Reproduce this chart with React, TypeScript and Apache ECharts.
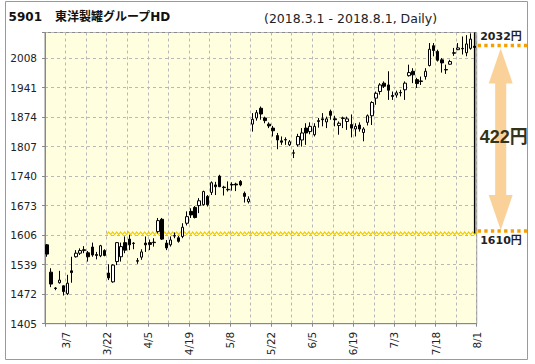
import React, { useEffect, useRef } from "react";
import * as echarts from "echarts";

const dates = [
  "3/1", "3/2", "3/5", "3/6", "3/7", "3/8", "3/9", "3/12", "3/13", "3/14", "3/15", "3/16", "3/19", "3/20", "3/22", "3/23", "3/26", "3/27", "3/28", "3/29", "3/30",
  "4/2", "4/3", "4/4", "4/5", "4/6", "4/9", "4/10", "4/11", "4/12", "4/13", "4/16", "4/17", "4/18", "4/19", "4/20", "4/23", "4/24", "4/25", "4/26", "4/27",
  "5/1", "5/2", "5/7", "5/8", "5/9", "5/10", "5/11", "5/14", "5/15", "5/16", "5/17", "5/18", "5/21", "5/22", "5/23", "5/24", "5/25", "5/28", "5/29", "5/30", "5/31",
  "6/1", "6/4", "6/5", "6/6", "6/7", "6/8", "6/11", "6/12", "6/13", "6/14", "6/15", "6/18", "6/19", "6/20", "6/21", "6/22", "6/25", "6/26", "6/27", "6/28", "6/29",
  "7/2", "7/3", "7/4", "7/5", "7/6", "7/9", "7/10", "7/11", "7/12", "7/13", "7/17", "7/18", "7/19", "7/20", "7/23", "7/24", "7/25", "7/26", "7/27", "7/30", "7/31",
  "8/1",
];

const opens = [
  1584, 1522, 1486, 1498, 1491, 1473, 1525, 1557, 1565, 1571, 1566, 1579, 1562, 1559, 1571, 1520, 1500, 1546, 1557, 1589, 1597,
  1587, 1548, 1556, 1588, 1589, 1589, 1614, 1642, 1588, 1584, 1604, 1600, 1603, 1633, 1660, 1669, 1673, 1675, 1694, 1703,
  1720, 1740, 1715, 1709, 1721, 1722, 1728, 1701, 1682, 1858, 1872, 1894, 1872, 1858, 1849, 1832, 1820, 1822, 1811, 1792, 1811,
  1822, 1849, 1841, 1834, 1864, 1870, 1863, 1887, 1870, 1855, 1872, 1864, 1857, 1847, 1856, 1839, 1862, 1877, 1917, 1932, 1951,
  1947, 1923, 1924, 1929, 1936, 1968, 1978, 1959, 1956, 1966, 1991, 2036, 2023, 2004, 1982, 1994, 2020, 2027, 2030, 2020, 2030,
  2035,
];
const closes = [
  1563, 1495, 1485, 1504, 1478, 1497, 1521, 1565, 1571, 1573, 1557, 1561, 1560, 1582, 1560, 1509, 1538, 1589, 1580, 1572, 1584,
  1588, 1547, 1568, 1584, 1585, 1590, 1639, 1597, 1577, 1595, 1605, 1592, 1624, 1648, 1652, 1646, 1684, 1705, 1675, 1725,
  1716, 1716, 1714, 1710, 1720, 1720, 1720, 1694, 1688, 1869, 1884, 1881, 1866, 1854, 1843, 1822, 1817, 1823, 1818, 1793, 1830,
  1838, 1838, 1853, 1853, 1866, 1868, 1870, 1878, 1868, 1860, 1871, 1870, 1849, 1853, 1847, 1847, 1877, 1907, 1928, 1947, 1944,
  1935, 1921, 1929, 1930, 1951, 1975, 1970, 1950, 1955, 1978, 2028, 2025, 2003, 1997, 1981, 2000, 2019, 2031, 2029, 2040, 2051,
  2032,
];
const lows = [
  1557, 1488, 1481, 1496, 1469, 1470, 1498, 1555, 1561, 1565, 1546, 1557, 1551, 1556, 1558, 1504, 1498, 1538, 1546, 1565, 1572,
  1574, 1541, 1550, 1568, 1572, 1580, 1610, 1595, 1572, 1580, 1599, 1589, 1599, 1628, 1645, 1644, 1656, 1673, 1671, 1697,
  1697, 1715, 1696, 1705, 1707, 1706, 1717, 1680, 1678, 1841, 1866, 1868, 1860, 1849, 1830, 1801, 1811, 1811, 1808, 1781, 1807,
  1807, 1811, 1835, 1830, 1850, 1853, 1849, 1868, 1853, 1834, 1849, 1845, 1828, 1830, 1841, 1819, 1855, 1856, 1902, 1925, 1940,
  1913, 1913, 1918, 1921, 1913, 1966, 1951, 1940, 1947, 1959, 1989, 2012, 2000, 1975, 1972, 1993, 2013, 2026, 2016, 2012, 2027,
  2026,
];
const highs = [
  1586, 1531, 1488, 1525, 1492, 1516, 1557, 1572, 1576, 1581, 1570, 1589, 1568, 1584, 1574, 1540, 1540, 1590, 1589, 1603, 1607,
  1590, 1554, 1574, 1603, 1596, 1599, 1645, 1645, 1595, 1603, 1612, 1604, 1633, 1660, 1667, 1672, 1690, 1707, 1697, 1728,
  1727, 1743, 1718, 1728, 1726, 1725, 1731, 1705, 1694, 1883, 1890, 1898, 1875, 1862, 1854, 1838, 1830, 1828, 1822, 1800, 1836,
  1849, 1860, 1862, 1860, 1872, 1883, 1875, 1891, 1877, 1864, 1875, 1875, 1880, 1860, 1862, 1851, 1880, 1910, 1932, 1951, 1955,
  1978, 1932, 1934, 1936, 1955, 1993, 1985, 1963, 1966, 1985, 2042, 2042, 2027, 2008, 1993, 2004, 2031, 2042, 2057, 2060, 2064,
  2040,
];

const yMin = 1405;
const yStep = 67;
const yMax = 2066;
const rangeHigh = 2032;
const rangeLow = 1610;
const rangeStartIndex = 14;
const titleCode = "5901";
const titleName = "東洋製罐グループHD";
const subtitle = "(2018.3.1 - 2018.8.1, Daily)";

export default function App() {
  const ref = useRef<HTMLDivElement>(null);

  useEffect(() => {
    const el = ref.current;
    if (!el) return;
    const chart = echarts.init(el, null, { renderer: "svg" });
    const font = "DejaVu Sans";
    const cjkFont = "'DejaVu Sans', 'Noto Sans CJK JP', sans-serif";
    const candles = dates.map((_, i) => [opens[i], closes[i], lows[i], highs[i]]);
    const n = dates.length;

    chart.setOption({
      animation: false,
      grid: {
        left: 45,
        top: 32.5,
        right: 58.3,
        bottom: 40.3,
        show: true,
        backgroundColor: "#FFFFE0",
        borderColor: "#8a8a8a",
        borderWidth: 1,
      },
      xAxis: [
        { type: "category", data: dates, boundaryGap: true, show: false },
        {
          type: "value",
          min: 0,
          max: n,
          interval: 5,
          position: "bottom",
          axisLine: { show: true, onZero: false, lineStyle: { color: "#888" } },
          axisTick: { show: true, length: 3, lineStyle: { color: "#888" } },
          splitLine: { show: true, lineStyle: { color: "#b8b8b8", type: [3, 3] } },
          axisLabel: {
            rotate: 90,
            fontSize: 10.5,
            fontFamily: font,
            color: "#222",
            margin: 8,
            formatter: (v: number) => (v % 10 === 5 ? dates[v - 1] : ""),
          },
        },
      ],
      yAxis: {
        type: "value",
        min: yMin,
        max: yMax,
        interval: yStep,
        axisLine: { show: true, lineStyle: { color: "#888" } },
        axisTick: { show: true, length: 3, lineStyle: { color: "#888" } },
        splitLine: { show: true, lineStyle: { color: "#b8b8b8", type: [3, 3] } },
        axisLabel: {
          fontSize: 10.5,
          fontFamily: font,
          color: "#222",
          margin: 8,
          formatter: (v: number) => ((v - yMin) % yStep === 0 ? String(v) : ""),
        },
      },
      series: [
        {
          type: "candlestick",
          xAxisIndex: 0,
          yAxisIndex: 0,
          data: candles,
          barWidth: 3,
          itemStyle: {
            color: "#ffffff",
            color0: "#000000",
            borderColor: "#000000",
            borderColor0: "#000000",
            borderWidth: 1,
          },
          z: 3,
        },
      ],
    });

    const px = (o: any, v: any) => chart.convertToPixel(o, v) as unknown as number;
    const yHi = px({ yAxisIndex: 0 }, rangeHigh);
    const yLo = px({ yAxisIndex: 0 }, rangeLow);
    const yTop = px({ yAxisIndex: 0 }, yMax);
    const xRight = px({ xAxisIndex: 1 }, n);
    const xStart = px({ xAxisIndex: 1 }, rangeStartIndex + 1);
    const xLast = px({ xAxisIndex: 0 }, n - 1);

    const zig: number[][] = [];
    let k = 0;
    for (let x = xStart; x <= xRight + 0.01; x += 2, k++) {
      zig.push([x, yLo + (k % 2 === 0 ? 1.2 : -1.4)]);
    }

    const orange = "#F5A000";
    const cx = xRight + 24;
    const tipT = yHi + 1;
    const tipB = yLo - 3.5;
    const headH = 35;
    const headW = 12;
    const shaftW = 5.5;
    const arrow = [
      [cx, tipT],
      [cx + headW, tipT + headH],
      [cx + shaftW, tipT + headH],
      [cx + shaftW, tipB - headH],
      [cx + headW, tipB - headH],
      [cx, tipB],
      [cx - headW, tipB - headH],
      [cx - shaftW, tipB - headH],
      [cx - shaftW, tipT + headH],
      [cx - headW, tipT + headH],
    ];

    const txt = (text: string, x: number, y: number, size: number, weight: string, fill: string, family: string, align = "left") => ({
      type: "text",
      z: 10,
      style: {
        text,
        x,
        y,
        fontSize: size,
        fontWeight: weight,
        fontFamily: family,
        fill,
        align,
        textAlign: align,
        verticalAlign: "middle",
        textVerticalAlign: "middle",
      },
    });

    chart.setOption({
      graphic: [
        {
          type: "rect",
          z: 0,
          shape: { x: 5.5, y: 1.5, width: 522, height: 358 },
          style: { fill: "none", stroke: "#9a9a9a", lineWidth: 1 },
          silent: true,
        },
        {
          type: "polyline",
          z: 1,
          shape: { points: zig },
          style: { stroke: "#F2CC00", lineWidth: 1.2, fill: "none" },
          silent: true,
        },
        {
          type: "line",
          z: 10,
          shape: { x1: xLast, y1: yTop, x2: xLast, y2: yLo },
          style: { stroke: "#000", lineWidth: 1.5 },
          silent: true,
        },
        {
          type: "line",
          z: 10,
          shape: { x1: xRight + 1, y1: yHi - 2, x2: 527.5, y2: yHi - 2 },
          style: { stroke: orange, lineWidth: 3.5, lineDash: [3.3, 3.3] },
          silent: true,
        },
        {
          type: "line",
          z: 10,
          shape: { x1: xRight + 1, y1: yLo - 2.5, x2: 527.5, y2: yLo - 2.5 },
          style: { stroke: orange, lineWidth: 3.5, lineDash: [3.3, 3.3] },
          silent: true,
        },
        {
          type: "polygon",
          z: 9,
          shape: { points: arrow },
          style: { fill: "#F5A333", opacity: 0.5 },
          silent: true,
        },
        txt(`${rangeHigh - rangeLow}円`, cx + 3, (yHi + yLo) / 2 - 3, 18, "bold", "#33331a", "'Liberation Sans', 'Noto Sans CJK JP', sans-serif", "center"),
        txt(`${rangeHigh}円`, xRight + 3.5, yHi - 10.5, 11, "bold", "#222", cjkFont),
        txt(`${rangeLow}円`, xRight + 3.5, yLo + 7.2, 11, "bold", "#222", cjkFont),
        txt(titleCode, 8.6, 17, 12, "bold", "#111", font),
        txt(titleName, 55, 17, 12, "bold", "#111", cjkFont),
        txt(subtitle, 264, 18.5, 12.5, "normal", "#222", font),
      ],
    });

    return () => {
      chart.dispose();
    };
  }, []);

  return (
    <div
      ref={ref}
      style={{ position: "absolute", left: 0, top: 0, width: 535, height: 364, background: "#fff" }}
    />
  );
}
